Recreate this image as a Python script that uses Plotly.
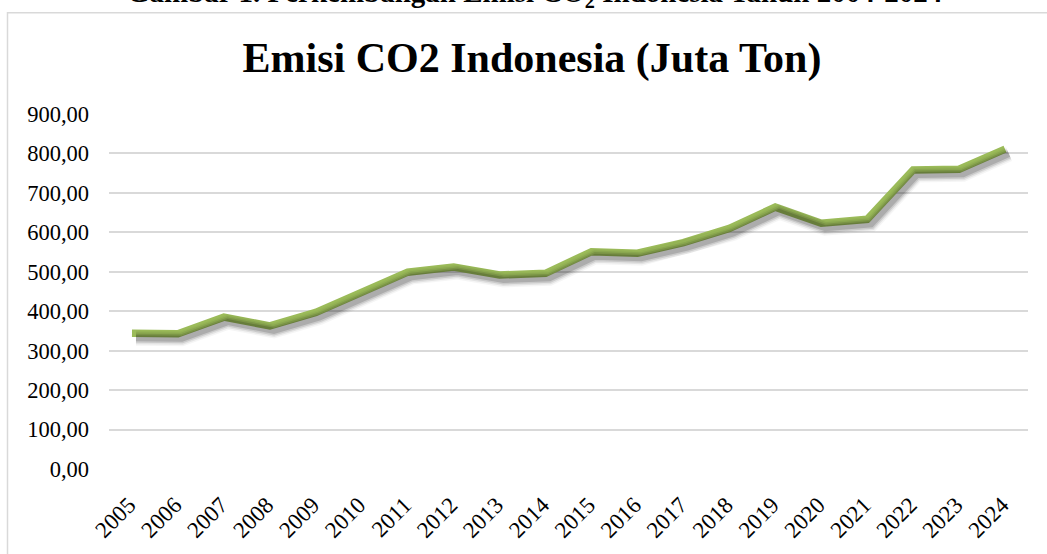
import plotly.graph_objects as go

years = [str(y) for y in range(2005, 2025)]
emisi = [344, 343, 385, 363, 397, 446, 499, 512, 492, 496,
         551, 547, 574, 610, 664, 623, 633, 758, 760, 811]
y_ticks = [0, 100, 200, 300, 400, 500, 600, 700, 800, 900]

FONT = "Liberation Serif, Times New Roman, serif"
W, H = 1047, 554
L, R, T, B = 109, 19, 114, 84.5
PW, PH = W - L - R, H - T - B


def px_x(x):
    return (x - L) / PW


def px_y(y):
    return (H - B - y) / PH


fig = go.Figure()

# soft shadow layers (same data, drawn on slightly shifted overlay axes)
for w, a in [(15, 0.04), (12, 0.07), (9, 0.11), (6, 0.15)]:
    fig.add_trace(go.Scatter(x=years, y=emisi, mode="lines", xaxis="x2", yaxis="y2",
                             line=dict(color=f"rgba(0,0,0,{a})", width=w),
                             hoverinfo="skip", showlegend=False))
fig.add_trace(go.Scatter(x=years, y=emisi, mode="lines",
                         line=dict(color="#9BBB59", width=7.5),
                         showlegend=False))

fig.update_layout(
    width=W, height=H,
    margin=dict(l=L, r=R, t=T, b=B),
    paper_bgcolor="white", plot_bgcolor="white",
    separators=",.",
    font=dict(family=FONT, color="black", size=22),
    title=dict(text="<b>Emisi CO2 Indonesia (Juta Ton)</b>",
               xref="container", yref="container",
               x=532 / W, y=1 - 57 / H, xanchor="center", yanchor="middle",
               font=dict(family=FONT, size=42, color="black")),
    xaxis=dict(type="category", range=[-0.5, 19.5], tickangle=-45,
               showgrid=False, showline=False, ticks="",
               ticklabelstandoff=17, ticklabelshift=-3,
               tickfont=dict(family=FONT, size=23)),
    yaxis=dict(range=[0, 900], tickvals=y_ticks, tickformat=".2f",
               showgrid=True, gridcolor="#d9d9d9", gridwidth=1.5,
               zeroline=False, showline=False, ticks="",
               ticklabelstandoff=19,
               tickfont=dict(family=FONT, size=22.5)),
    xaxis2=dict(type="category", range=[-0.5 - 4 / 45.95, 19.5 - 4 / 45.95],
                overlaying="x", visible=False),
    yaxis2=dict(range=[5 / PH * 900, 900 + 5 / PH * 900], overlaying="y",
                visible=False),
    annotations=[dict(
        text="<b>Gambar 1. Perkembangan Emisi CO<sub>2</sub> Indonesia Tahun 2004-2024</b>",
        xref="paper", yref="paper", x=px_x(534.5), y=px_y(14),
        xanchor="center", yanchor="bottom", showarrow=False,
        font=dict(family=FONT, size=29, color="black"))],
    shapes=[dict(type="rect", xref="paper", yref="paper",
                 x0=px_x(7.5), x1=px_x(1060),
                 y0=px_y(570), y1=px_y(12.5),
                 line=dict(color="#d9d9d9", width=1.5), layer="below")],
)

fig.write_html("out.html", config={"displayModeBar": False},
               post_script="document.body.style.margin='0';")
